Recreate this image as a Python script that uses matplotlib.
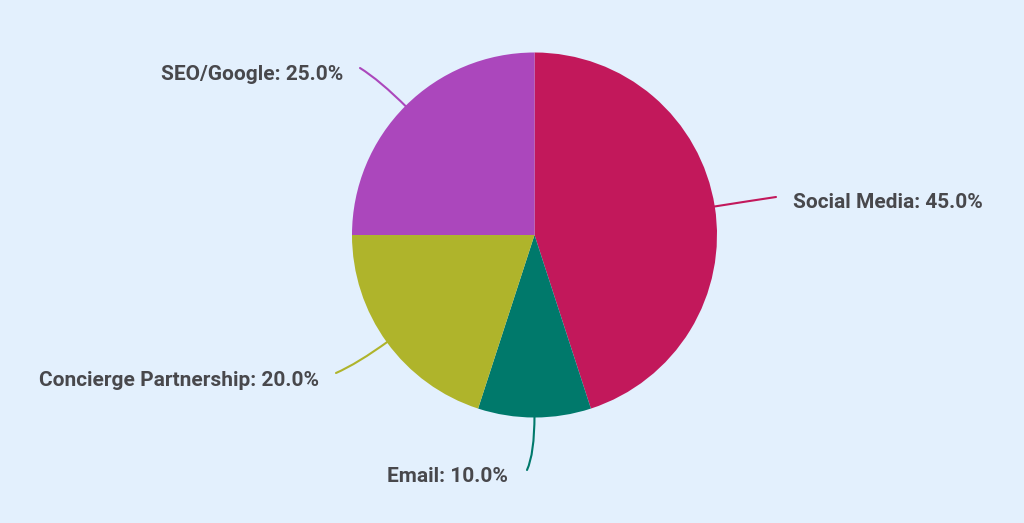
import numpy as np
import matplotlib
matplotlib.use("Agg")
import matplotlib.pyplot as plt
from matplotlib.path import Path
from matplotlib.patches import PathPatch

categories = ["Social Media", "Email", "Concierge Partnership", "SEO/Google"]
values = [45.0, 10.0, 20.0, 25.0]
colors = ["#C2185B", "#00796B", "#AFB42B", "#AB47BC"]

W, H = 1024, 523
bg = "#E3F0FD"
fig = plt.figure(figsize=(W / 100, H / 100), dpi=100, facecolor=bg)
ax = fig.add_axes([0, 0, 1, 1])
ax.set_xlim(0, W)
ax.set_ylim(0, H)
ax.set_aspect("equal")
ax.axis("off")
ax.set_facecolor(bg)

cx, cy, r = 534.5, 523 - 235, 182.5
ax.pie(values, colors=colors, startangle=90, counterclock=False,
       center=(cx, cy), radius=r, frame=True,
       wedgeprops=dict(linewidth=0))
ax.set_xlim(0, W)
ax.set_ylim(0, H)
ax.axis("off")

# label end points (pixel-down coords) and text alignment
ends = [(776, 197), (527, 470), (336, 373), (360, 68)]
text_pos = [(793, 203, "left"), (508, 476, "right"), (319, 380, "right"), (343, 74, "right")]

total = sum(values)
start = 90.0
for i, v in enumerate(values):
    sweep = v / total * 360
    mid = np.deg2rad(start - sweep / 2)
    start -= sweep
    p0 = (cx + 0.985 * r * np.cos(mid), cy + 0.985 * r * np.sin(mid))
    p1 = (cx + 1.2 * r * np.cos(mid), cy + 1.2 * r * np.sin(mid))
    ex, ey = ends[i]
    p2 = (ex, H - ey)
    path = Path([p0, p1, p2], [Path.MOVETO, Path.CURVE3, Path.CURVE3])
    ax.add_patch(PathPatch(path, facecolor="none", edgecolor=colors[i], lw=1.5,
                           capstyle="round"))
    tx, ty, ha = text_pos[i]
    ax.text(tx, H - ty, f"{categories[i]}: {v:.1f}%", ha=ha, va="center",
            fontsize=15, fontweight="bold", family=["Roboto", "DejaVu Sans"],
            color="#48484C")

fig.savefig("out.png", dpi=100, facecolor=bg)
